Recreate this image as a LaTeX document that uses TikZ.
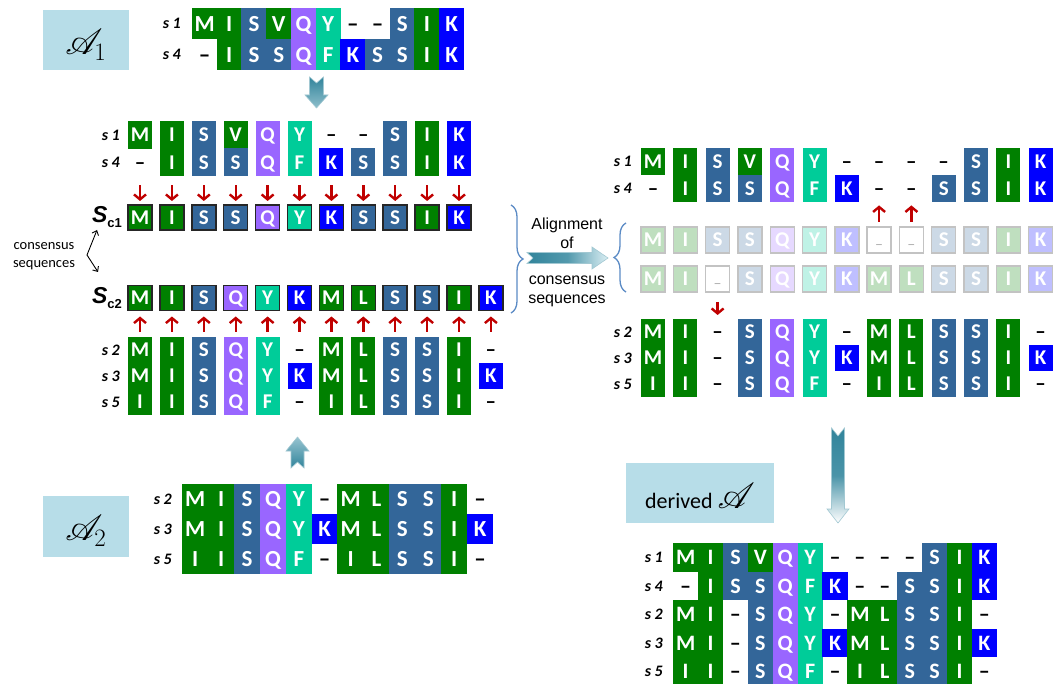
\documentclass[tikz,border=0pt]{standalone}
\usepackage{fontspec}
\setmainfont{Carlito}
\newfontfamily\arialfont{Liberation Sans}
\usepackage{mathrsfs}
\usetikzlibrary{arrows.meta,positioning,decorations.pathreplacing}

\definecolor{resgreen}{HTML}{008000}
\definecolor{ressteel}{HTML}{336699}
\definecolor{respurple}{HTML}{9966FF}
\definecolor{resteal}{HTML}{00CC99}
\definecolor{resblue}{HTML}{0000FF}
\colorlet{aaM}{resgreen}
\colorlet{aaI}{resgreen}
\colorlet{aaV}{resgreen}
\colorlet{aaL}{resgreen}
\colorlet{aaS}{ressteel}
\colorlet{aaQ}{respurple}
\colorlet{aaY}{resteal}
\colorlet{aaF}{resteal}
\colorlet{aaK}{resblue}
\definecolor{labelblue}{HTML}{B7DDE8}
\definecolor{arrowred}{HTML}{C00000}
\definecolor{bracecol}{HTML}{5B8BC5}
\definecolor{tealdk}{HTML}{31849B}
\definecolor{teallt}{HTML}{DAEEF3}
\definecolor{fadeline}{HTML}{C3C3C3}

\newcommand{\gapdash}{\textendash}
\newcommand{\bigscr}[1]{\scalebox{1.45}{\fontsize{24}{24}\selectfont$#1$}}
% one row of an alignment: name, x0, pitch, top, height, width, kind, residues
\newcommand{\seqrow}[8]{%
  \foreach \res [count=\i from 0] in {#8}{%
    \if-\res
      \node[#7 gap, minimum width=#6pt, minimum height=#5pt] (#1-\i) at ({#2+\i*#3+#6/2},{#4+#5/2}) {\gapdash};
    \else
      \node[#7 cell=\res, minimum width=#6pt, minimum height=#5pt] (#1-\i) at ({#2+\i*#3+#6/2},{#4+#5/2}) {\res};
    \fi}}

\tikzset{
  plain cell/.style={fill=aa#1, text=white},
  plain gap/.style={text=black},
  boxed cell/.style={fill=aa#1, text=white, draw=black!85, line width=1.5pt},
  faded cell/.style={fill=aa#1!25, text=white, draw=fadeline, line width=1.4pt},
  faded gap/.style={fill=white, draw=fadeline, line width=1.4pt, text=black!30,
    font=\fontsize{16}{16}\selectfont, text height=20pt},
  contig/.style={nodes={font=\bfseries\fontsize{23}{23}\selectfont, text height=14.8pt,
    text depth=0pt, inner sep=0pt, outer sep=0pt}},
  derv/.style={nodes={font=\bfseries\fontsize{22}{22}\selectfont, text height=14.2pt,
    text depth=0pt, inner sep=0pt, outer sep=0pt}},
  sepr/.style={nodes={font=\bfseries\fontsize{21}{21}\selectfont, text height=13.5pt,
    text depth=0pt, inner sep=0pt, outer sep=0pt}},
}

\begin{document}
\begin{tikzpicture}[x=1pt, y=-1pt]
  \tikzstyle{seqlabel}=[font=\bfseries\itshape\fontsize{16}{16}\selectfont, inner sep=0pt]
  \tikzstyle{sclabel}=[font=\arialfont\bfseries\fontsize{23}{23}\selectfont, inner sep=0pt]
  \tikzstyle{labelbox}=[fill=labelblue, inner sep=0pt]
  \tikzstyle{redarrow}=[draw=arrowred, line width=2.4pt, -{Straight Barb[length=5pt,width=12pt]}]
  \tikzstyle{blockarrow}=[draw=tealdk!45!white, line width=0.6pt]
  \tikzstyle{brace}=[draw=bracecol, line width=1.3pt, decorate, decoration={brace, amplitude=12pt}]
  \tikzstyle{aligntext}=[font=\arialfont\fontsize{16}{19}\selectfont, align=center, inner sep=0pt]

  \path[fill=white, use as bounding box] (0,0) rectangle (1054,684);

  % alignment A1
  \node[labelbox, minimum width=86pt, minimum height=60pt] (a1box) at (86,40) {};
  \node[inner sep=0pt] (a1name) at (86,45) {\bigscr{\mathscr{A}_1}};
  \begin{scope}[contig]
    \seqrow{a1s1}{192}{24.7}{8}{31.4}{25.2}{plain}{M,I,S,V,Q,Y,-,-,S,I,K}
    \seqrow{a1s4}{192}{24.7}{39}{31.4}{25.2}{plain}{-,I,S,S,Q,F,K,S,S,I,K}
  \end{scope}
  \node[seqlabel, left=11pt of a1s1-0] (a1l1) {s 1};
  \node[seqlabel, left=11pt of a1s4-0] (a1l4) {s 4};

  \shadedraw[blockarrow, top color=tealdk, bottom color=tealdk!45!teallt]
    (309.5,77) -- (316.5,83) -- (323.5,77) -- (323.5,95) -- (328,95) -- (316.5,108)
    -- (305,95) -- (309.5,95) -- cycle;

  % consensus of A1 and A2
  \begin{scope}[sepr]
    \seqrow{m1}{128}{31.9}{121}{27.9}{24}{plain}{M,I,S,V,Q,Y,-,-,S,I,K}
    \seqrow{m4}{128}{31.9}{148.5}{27.9}{24}{plain}{-,I,S,S,Q,F,K,S,S,I,K}
    \seqrow{c1}{128}{31.9}{205}{25}{24}{boxed}{M,I,S,S,Q,Y,K,S,S,I,K}
    \seqrow{c2}{128}{31.9}{285.5}{25}{24}{boxed}{M,I,S,Q,Y,K,M,L,S,S,I,K}
    \seqrow{m2}{128}{31.9}{337}{26.4}{24}{plain}{M,I,S,Q,Y,-,M,L,S,S,I,-}
    \seqrow{m3}{128}{31.9}{363}{26.4}{24}{plain}{M,I,S,Q,Y,K,M,L,S,S,I,K}
    \seqrow{m5}{128}{31.9}{389}{26.4}{24}{plain}{I,I,S,Q,F,-,I,L,S,S,I,-}
  \end{scope}
  \node[seqlabel, left=8pt of m1-0] (ml1) {s 1};
  \node[seqlabel, left=8pt of m4-0] (ml4) {s 4};
  \node[seqlabel, left=8pt of m2-0] (ml2) {s 2};
  \node[seqlabel, left=8pt of m3-0] (ml3) {s 3};
  \node[seqlabel, left=8pt of m5-0] (ml5) {s 5};
  \node[sclabel, left=6pt of c1-0] (sc1lab) {\textit{S}\raisebox{-5pt}{\fontsize{13}{13}\selectfont c1}};
  \node[sclabel, left=6pt of c2-0] (sc2lab) {\textit{S}\raisebox{-5pt}{\fontsize{13}{13}\selectfont c2}};

  \foreach \i in {0,...,10}
    \draw[redarrow, shorten <=9pt, shorten >=4pt] (m4-\i.south) -- (c1-\i.north);
  \foreach \i in {0,...,11}
    \draw[redarrow, shorten <=5pt, shorten >=6pt] (m2-\i.north) -- (c2-\i.south);

  \node[font=\fontsize{14.5}{18}\selectfont, align=center, inner sep=0pt] (cslab) at (44,256) {consensus\\sequences};
  \coordinate (zztop) at (97,230);
  \coordinate (zzbend) at (87,255);
  \coordinate (zzbot) at (98,272);
  \draw[line width=0.9pt, {Straight Barb[length=4pt,width=7pt]}-{Straight Barb[length=4pt,width=7pt]}]
    (zztop) -- (zzbend) -- (zzbot);

  % alignment A2
  \shadedraw[blockarrow, top color=tealdk!40!teallt, bottom color=tealdk]
    (297.5,437) -- (309,451) -- (304,451) -- (304,468) -- (297.5,462) -- (291,468)
    -- (291,451) -- (286,451) -- cycle;
  \node[labelbox, minimum width=86pt, minimum height=61pt] (a2box) at (86,526.5) {};
  \node[inner sep=0pt] (a2name) at (86,531) {\bigscr{\mathscr{A}_2}};
  \begin{scope}[contig]
    \seqrow{a2s2}{182}{25.9}{484}{30.4}{26.4}{plain}{M,I,S,Q,Y,-,M,L,S,S,I,-}
    \seqrow{a2s3}{182}{25.9}{514}{30.4}{26.4}{plain}{M,I,S,Q,Y,K,M,L,S,S,I,K}
    \seqrow{a2s5}{182}{25.9}{544}{30.4}{26.4}{plain}{I,I,S,Q,F,-,I,L,S,S,I,-}
  \end{scope}
  \node[seqlabel, left=10pt of a2s2-0] (a2l2) {s 2};
  \node[seqlabel, left=10pt of a2s3-0] (a2l3) {s 3};
  \node[seqlabel, left=10pt of a2s5-0] (a2l5) {s 5};

  % alignment of the consensus sequences
  \coordinate (bra1) at (511,205);
  \coordinate (bra2) at (511,313);
  \draw[brace] (bra1) -- (bra2);
  \node[aligntext] (algn) at (567,233) {Alignment\\of};
  \node[aligntext] (cons) at (567,291) {consensus\\sequences};
  \shadedraw[blockarrow, left color=tealdk, right color=teallt, middle color=tealdk!80!teallt]
    (527,252.5) -- (592,252.5) -- (592,247) -- (608,258) -- (592,269) -- (592,263.5)
    -- (527,263.5) -- (533,258) -- cycle;
  \coordinate (brb1) at (626,292);
  \coordinate (brb2) at (626,223);
  \draw[brace] (brb1) -- (brb2);

  \begin{scope}[sepr]
    \seqrow{r1}{641}{32.3}{148}{27.4}{24}{plain}{M,I,S,V,Q,Y,-,-,-,-,S,I,K}
    \seqrow{r4}{641}{32.3}{175}{27.4}{24}{plain}{-,I,S,S,Q,F,K,-,-,S,S,I,K}
    \seqrow{f1}{641}{32.3}{227}{26}{24}{faded}{M,I,S,S,Q,Y,K,-,-,S,S,I,K}
    \seqrow{f2}{641}{32.3}{266}{26}{24}{faded}{M,I,-,S,Q,Y,K,M,L,S,S,I,K}
    \seqrow{q2}{641}{32.3}{319}{26.4}{24}{plain}{M,I,-,S,Q,Y,-,M,L,S,S,I,-}
    \seqrow{q3}{641}{32.3}{345}{26.4}{24}{plain}{M,I,-,S,Q,Y,K,M,L,S,S,I,K}
    \seqrow{q5}{641}{32.3}{371}{26.4}{24}{plain}{I,I,-,S,Q,F,-,I,L,S,S,I,-}
  \end{scope}
  \node[seqlabel, left=9pt of r1-0] (rl1) {s 1};
  \node[seqlabel, left=9pt of r4-0] (rl4) {s 4};
  \node[seqlabel, left=9pt of q2-0] (ql2) {s 2};
  \node[seqlabel, left=9pt of q3-0] (ql3) {s 3};
  \node[seqlabel, left=9pt of q5-0] (ql5) {s 5};

  \foreach \i in {7,8}
    \draw[redarrow, shorten <=5pt, shorten >=3pt] (f1-\i.north) -- (r4-\i.south);
  \draw[redarrow, shorten <=10pt, shorten >=4pt] (f2-2.south) -- (q2-2.north);

  % derived alignment
  \shadedraw[blockarrow, top color=tealdk, bottom color=white, middle color=tealdk!85!teallt]
    (831.5,428) -- (838,436) -- (844.5,428) -- (844.5,509) -- (849,509) -- (838,523)
    -- (827,509) -- (831.5,509) -- cycle;
  \node[labelbox, minimum width=148pt, minimum height=60pt] (dbox) at (700,493) {};
  \node[inner sep=0pt] (dname) at (700,496)
    {\fontsize{22}{22}\selectfont derived \bigscr{\mathscr{A}}};
  \begin{scope}[derv]
    \seqrow{d1}{673}{24.9}{543}{28.9}{25.3}{plain}{M,I,S,V,Q,Y,-,-,-,-,S,I,K}
    \seqrow{d4}{673}{24.9}{571.5}{28.9}{25.3}{plain}{-,I,S,S,Q,F,K,-,-,S,S,I,K}
    \seqrow{d2}{673}{24.9}{600}{28.9}{25.3}{plain}{M,I,-,S,Q,Y,-,M,L,S,S,I,-}
    \seqrow{d3}{673}{24.9}{628.5}{28.9}{25.3}{plain}{M,I,-,S,Q,Y,K,M,L,S,S,I,K}
    \seqrow{d5}{673}{24.9}{657}{28.9}{25.3}{plain}{I,I,-,S,Q,F,-,I,L,S,S,I,-}
  \end{scope}
  \node[seqlabel, left=10pt of d1-0] (dl1) {s 1};
  \node[seqlabel, left=10pt of d4-0] (dl4) {s 4};
  \node[seqlabel, left=10pt of d2-0] (dl2) {s 2};
  \node[seqlabel, left=10pt of d3-0] (dl3) {s 3};
  \node[seqlabel, left=10pt of d5-0] (dl5) {s 5};
\end{tikzpicture}
\end{document}
